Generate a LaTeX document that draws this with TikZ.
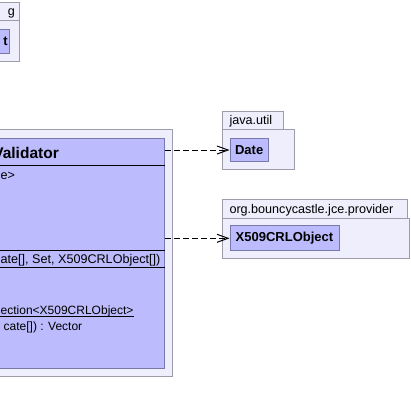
\documentclass[tikz,border=0pt]{standalone}
\usepackage{fontspec}
\setmainfont{Liberation Sans}
\usetikzlibrary{arrows.meta}
\definecolor{clsfill}{RGB}{187,187,253}
\definecolor{clsdraw}{RGB}{120,120,170}
\definecolor{pkgfill}{RGB}{238,238,252}
\definecolor{pkgdraw}{RGB}{156,156,172}
\begin{document}
\begin{tikzpicture}[x=1pt,y=-1pt,
  pkg/.style={draw=pkgdraw,fill=pkgfill,line width=1pt},
  cls/.style={draw=clsdraw,fill=clsfill,line width=1pt,rectangle,inner sep=0pt},
  sep/.style={draw=black,line width=1pt},
  txt/.style={inner sep=0pt,font=\fontsize{12.6}{14}\selectfont},
  btxt/.style={inner sep=0pt,font=\fontsize{13}{15}\selectfont\bfseries},
  ttxt/.style={inner sep=0pt,font=\fontsize{15.5}{18}\selectfont\bfseries},
  dep/.style={draw=black,line width=1pt,dash pattern=on 6pt off 3pt,
    -{Straight Barb[length=11pt,width=8pt,line width=1pt]}}
]
\useasboundingbox (0,0) rectangle (411,415);
\clip (0,0) rectangle (411,415);
\fill[white] (0,0) rectangle (411,415);

% top-left package (cropped)
\draw[pkg] (-60,2.5) rectangle (19.5,20.5);
\draw[pkg] (-60,20.5) rectangle (19.5,61);
\node[cls,minimum width=69.5pt,minimum height=24pt] (obj) at (-25.25,41) {};
\node[txt,anchor=base east] (objpkgname) at (15,15.5) {g};
\node[btxt,anchor=base east] (objname) at (8,45.5) {t};

% big package with validator class (cropped)
\draw[pkg] (-100,129.5) rectangle (172.5,376);
\node[cls,minimum width=264.5pt,minimum height=230pt] (val) at (32.25,253.5) {};
\draw[sep] (-100,165.5) -- (164.5,165.5);
\draw[sep] (-100,250.5) -- (164.5,250.5);
\draw[sep] (-100,267.5) -- (164.5,267.5);
\node[ttxt,anchor=base east] (valname) at (59,158) {Validator};
\node[txt,anchor=base west] (attr) at (0.5,179) {e>};
\node[txt,anchor=base west] (ctor) at (0.5,263.5) {ate[], Set, X509CRLObject[])};
\node[txt,anchor=base west,font=\fontsize{12}{14}\selectfont] (op1) at (0.5,314) {ection<X509CRLObject>};
\draw[line width=0.8pt] (0,316.5) -- (op1.base east |- 0,316.5);
\node[txt,anchor=base west,font=\fontsize{12}{14}\selectfont] (op2) at (3.5,330.5) {cate[]) : Vector};

% java.util package
\draw[pkg] (222.5,111.5) rectangle (283,129.5);
\draw[pkg] (222.5,129.5) rectangle (294,169);
\node[txt,anchor=base west] (utilname) at (229.3,124.5) {java.util};
\node[cls,minimum width=38.3pt,minimum height=23.4pt] (date) at (249.15,150) {};
\node[btxt] (datelabel) at (date.center) {Date};

% org.bouncycastle.jce.provider package
\draw[pkg] (222.5,199.5) rectangle (407.5,218);
\draw[pkg] (222.5,218) rectangle (409.5,258.5);
\node[txt,anchor=base west] (provname) at (229.3,213.5) {org.bouncycastle.jce.provider};
\node[cls,minimum width=109pt,minimum height=24.7pt] (crl) at (284.5,238.3) {};
\node[btxt] (crllabel) at (crl.center) {X509CRLObject};

% dependencies
\draw[dep] (val.east |- date.west) -- (date.west);
\draw[dep] (val.east |- crl.west) -- (crl.west);
\end{tikzpicture}
\end{document}
